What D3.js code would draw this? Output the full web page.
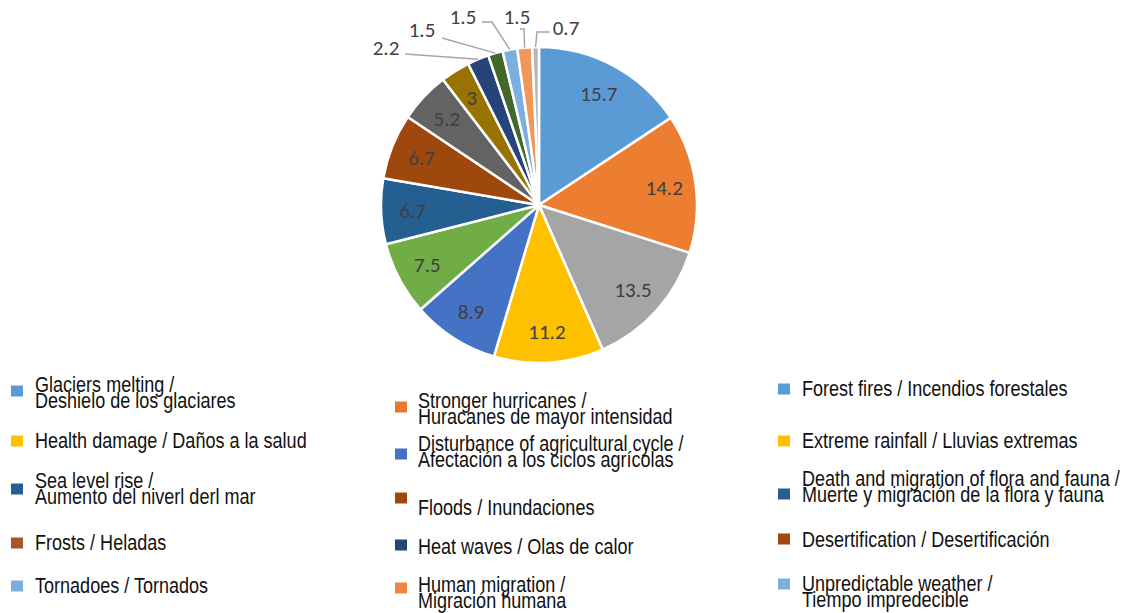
<!DOCTYPE html>
<html>
<head>
<meta charset="utf-8">
<script src="https://cdn.jsdelivr.net/npm/d3@7"></script>
<style>
	body { margin: 0; background: #fff; }
	svg { display: block; }
</style>
</head>
<body>
<div id="chart"></div>
<script>
// slice values, clockwise from 12 o'clock
var sliceNames = [
	"Glaciers melting", "Stronger hurricanes", "Forest fires", "Health damage",
	"Disturbance of agricultural cycle", "Extreme rainfall", "Sea level rise", "Floods",
	"Death and migration of flora and fauna", "Frosts", "Heat waves", "Desertification",
	"Tornadoes", "Human migration", "Unpredictable weather"
];
var sliceValues = [15.7, 14.2, 13.5, 11.2, 8.9, 7.5, 6.7, 6.7, 5.2, 3, 2.2, 1.5, 1.5, 1.5, 0.7];
var sliceColors = [
	"#5B9BD5", "#ED7D31", "#A5A5A5", "#FFC000", "#4472C4", "#70AD47", "#255E91", "#9E480E",
	"#636363", "#997300", "#264478", "#43682B", "#7CAFDD", "#F1975A", "#B7B7B7"
];

// legend entries, row by row (3 columns)
var legendLabels = [
	["Glaciers melting /", "Deshielo de los glaciares"],
	["Stronger hurricanes /", "Huracanes de mayor intensidad"],
	["Forest fires / Incendios forestales"],
	["Health damage / Daños a la salud"],
	["Disturbance of agricultural cycle /", "Afectación a los ciclos agrícolas"],
	["Extreme rainfall / Lluvias extremas"],
	["Sea level rise /", "Aumento del niverl derl mar"],
	["Floods / Inundaciones"],
	["Death and migration of flora and fauna /", "Muerte y migración de la flora y fauna"],
	["Frosts / Heladas"],
	["Heat waves / Olas de calor"],
	["Desertification / Desertificación"],
	["Tornadoes / Tornados"],
	["Human migration /", "Migración humana"],
	["Unpredictable weather /", "Tiempo impredecible"]
];
var legendColors = [
	"#5B9BD5", "#E97A2D", "#5B9BD5",
	"#FFC000", "#4472C4", "#FFC000",
	"#255E91", "#9E480E", "#255E91",
	"#A5572B", "#264478", "#9E480E",
	"#7CAFDD", "#EE8540", "#7CAFDD"
];

var width = 1134, height = 613;
var cx = 539, cy = 205, radius = 158;

// layout of the legend (hand placed like the original image)
var legendColX = [11, 395, 778];
var legendTextX = [35, 418, 802];
var legendMarkerY = [391, 407, 389, 441, 454, 441, 489, 498, 494, 543, 545, 539, 586, 588, 584];
var legendBaseY = [392, 408, 396, 448, 451, 448, 488, 515, 486, 550, 554, 547, 593, 592, 591];
var lineStep = 16;

// outside label placement for the small slices (index -> label center + leader bend)
var outsideLabels = {
	10: {x: 386, y: 48, pts: [[405, 54]]},
	11: {x: 422, y: 30, pts: [[442, 38]]},
	12: {x: 463, y: 17, pts: [[492, 22], [482, 22]]},
	13: {x: 517, y: 17, pts: [[524, 29], [520, 29]]},
	14: {x: 566, y: 28, pts: [[537, 32], [550, 32]]}
};

var svg = d3.select("#chart").append("svg")
	.attr("width", width)
	.attr("height", height);

var pie = d3.pie().sort(null).value(function(d) { return d; });
var arcs = pie(sliceValues);

var arc = d3.arc().innerRadius(0).outerRadius(radius);
var labelArc = d3.arc().innerRadius(radius * 0.8).outerRadius(radius * 0.8);
var edgeArc = d3.arc().innerRadius(radius).outerRadius(radius);

var g = svg.append("g").attr("transform", "translate(" + cx + "," + cy + ")");

g.selectAll("path.slice")
	.data(arcs)
	.enter().append("path")
	.attr("class", "slice")
	.attr("d", arc)
	.attr("fill", function(d, i) { return sliceColors[i]; })
	.attr("stroke", "#fff")
	.attr("stroke-width", 2.5)
	.attr("stroke-linejoin", "round");

var labelFont = "Carlito, Calibri, Lato, 'Open Sans', sans-serif";
var labelSize = 21;

// inside labels
g.selectAll("text.inside")
	.data(arcs.filter(function(d, i) { return !outsideLabels[i]; }))
	.enter().append("text")
	.attr("class", "inside")
	.attr("transform", function(d) { return "translate(" + labelArc.centroid(d) + ")"; })
	.attr("text-anchor", "middle")
	.attr("dy", "0.35em")
	.attr("font-family", labelFont)
	.attr("font-size", labelSize)
	.attr("fill", "#404040")
	.text(function(d) { return d.value; });

// outside labels with leader lines
arcs.forEach(function(d, i) {
	var o = outsideLabels[i];
	if (!o) {
		return;
	}
	var edge = edgeArc.centroid(d);
	var pts = [[edge[0] + cx, edge[1] + cy]].concat(o.pts);
	svg.append("path")
		.attr("d", d3.line()(pts))
		.attr("fill", "none")
		.attr("stroke", "#A6A6A6")
		.attr("stroke-width", 1.5);
	svg.append("text")
		.attr("x", o.x)
		.attr("y", o.y)
		.attr("text-anchor", "middle")
		.attr("dy", "0.35em")
		.attr("font-family", labelFont)
		.attr("font-size", labelSize)
		.attr("fill", "#404040")
		.text(d.value);
});

// legend: Arial Narrow look = Liberation Sans squeezed horizontally
var legendFont = "'Liberation Sans', Arial, sans-serif";
var narrow = 0.82;
var leg = svg.append("g").attr("class", "legend");

legendLabels.forEach(function(lines, i) {
	var col = i % 3;
	leg.append("rect")
		.attr("x", legendColX[col])
		.attr("y", legendMarkerY[i] - 5.5)
		.attr("width", 12)
		.attr("height", 11)
		.attr("fill", legendColors[i]);
	var t = leg.append("text")
		.attr("transform", "translate(" + legendTextX[col] + ",0) scale(" + narrow + ",1)")
		.attr("font-family", legendFont)
		.attr("font-size", 22)
		.attr("fill", "#111");
	lines.forEach(function(line, j) {
		t.append("tspan")
			.attr("x", 0)
			.attr("y", legendBaseY[i] + j * lineStep)
			.text(line);
	});
});
</script>
</body>
</html>
